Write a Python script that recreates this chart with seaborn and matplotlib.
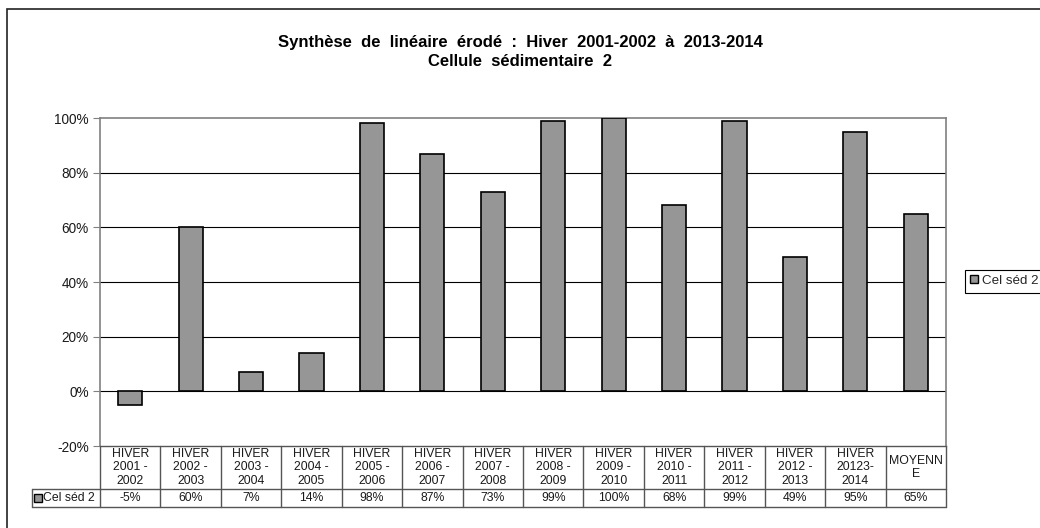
import matplotlib
matplotlib.use("Agg")
import matplotlib.pyplot as plt
import matplotlib.transforms as mtransforms
from matplotlib.lines import Line2D
from matplotlib.patches import Rectangle
from matplotlib.ticker import FuncFormatter, MultipleLocator
import pandas as pd
import seaborn as sns

# Winter periods and share of eroded shoreline (%)
categories = [
    "HIVER\n2001 -\n2002", "HIVER\n2002 -\n2003", "HIVER\n2003 -\n2004",
    "HIVER\n2004 -\n2005", "HIVER\n2005 -\n2006", "HIVER\n2006 -\n2007",
    "HIVER\n2007 -\n2008", "HIVER\n2008 -\n2009", "HIVER\n2009 -\n2010",
    "HIVER\n2010 -\n2011", "HIVER\n2011 -\n2012", "HIVER\n2012 -\n2013",
    "HIVER\n20123-\n2014", "MOYENN\nE",
]
values = [-5, 60, 7, 14, 98, 87, 73, 99, 100, 68, 99, 49, 95, 65]
series_name = "Cel séd 2"
title_lines = ["Synthèse  de  linéaire  érodé  :  Hiver  2001-2002  à  2013-2014",
               "Cellule  sédimentaire  2"]

sns.set_theme(style="white")
plt.rcParams["font.family"] = ["Liberation Sans", "DejaVu Sans"]

W, H = 1040, 528
fig = plt.figure(figsize=(W / 100, H / 100), dpi=100)
fig.patch.set_facecolor("white")

# plot area in pixel terms
L, R, T, B = 100, 946, 118, 446
ax = fig.add_axes([L / W, 1 - B / H, (R - L) / W, (B - T) / H])

df = pd.DataFrame({"periode": categories, "pct": values})
BAR = "#969696"
sns.barplot(data=df, x="periode", y="pct", color=BAR, saturation=1,
            edgecolor="black", linewidth=1.2, width=0.4, ax=ax, zorder=3)

ax.set_ylim(-20, 100)
ax.set_xlim(-0.5, len(categories) - 0.5)
ax.yaxis.set_major_locator(MultipleLocator(20))
ax.yaxis.set_major_formatter(FuncFormatter(lambda v, p: f"{v:.0f}%"))
ax.set_xlabel("")
ax.set_ylabel("")
ax.set_xticks([])
ax.tick_params(axis="y", which="major", direction="out", length=5, width=0.8,
               color="#808080", labelsize=9.8, pad=3, left=True)
for lab in ax.get_yticklabels():
    lab.set_color("#1a1a1a")
for g in [0, 20, 40, 60, 80]:
    ax.axhline(g, color="black", lw=0.8, zorder=1)
for side in ["top", "right", "left"]:
    ax.spines[side].set_color("#808080")
    ax.spines[side].set_linewidth(1.2)
ax.spines["bottom"].set_color("#555555")
ax.spines["bottom"].set_linewidth(1.0)

# data table beneath the plot area
tr = mtransforms.blended_transform_factory(ax.transData, ax.transAxes)
hpx = B - T
colw = (R - L) / len(categories)
y_cat = -(489 - B) / hpx
y_val = -(507 - B) / hpx
x_lab = -0.5 - (L - 32) / colw
lc = "#555555"
for i in range(len(categories) + 1):
    ax.add_line(Line2D([i - 0.5, i - 0.5], [0, y_val], transform=tr,
                       color=lc, lw=1.0, clip_on=False))
ax.add_line(Line2D([x_lab, len(categories) - 0.5], [y_cat, y_cat], transform=tr,
                   color=lc, lw=1.0, clip_on=False))
ax.add_line(Line2D([x_lab, len(categories) - 0.5], [y_val, y_val], transform=tr,
                   color=lc, lw=1.0, clip_on=False))
ax.add_line(Line2D([x_lab, x_lab], [y_cat, y_val], transform=tr,
                   color=lc, lw=1.0, clip_on=False))
for i, (c, v) in enumerate(zip(categories, values)):
    ax.text(i, y_cat / 2, c, transform=tr, ha="center", va="center",
            fontsize=8.8, linespacing=1.12, color="#1a1a1a")
    ax.text(i, (y_cat + y_val) / 2, f"{v}%", transform=tr, ha="center",
            va="center", fontsize=8.8, color="#1a1a1a")
ax.add_line(Line2D([x_lab + 0.1], [(y_cat + y_val) / 2], transform=tr,
                   marker="s", markersize=5.5, markerfacecolor=BAR,
                   markeredgecolor="black", markeredgewidth=1.0, clip_on=False))
ax.text(x_lab + 0.19, (y_cat + y_val) / 2, series_name, transform=tr,
        ha="left", va="center", fontsize=8.8, color="#1a1a1a")

# legend
handle = Line2D([], [], linestyle="none", marker="s", markersize=5.5,
                markerfacecolor=BAR, markeredgecolor="black", markeredgewidth=1.0)
leg = fig.legend([handle], [series_name], loc="center left",
                 bbox_to_anchor=(965 / W, 1 - 281 / H), bbox_transform=fig.transFigure,
                 frameon=True, fancybox=False, framealpha=1, fontsize=9.6,
                 handlelength=0.6, handletextpad=0.3, borderpad=0.4,
                 borderaxespad=0)
leg.get_frame().set_edgecolor("black")
leg.get_frame().set_linewidth(0.8)

# title
fig.text(0.5, 1 - 43 / H, title_lines[0], ha="center", va="center",
         fontsize=12, fontweight="bold", color="black")
fig.text(0.5, 1 - 62 / H, title_lines[1], ha="center", va="center",
         fontsize=12, fontweight="bold", color="black")

# chart frame
fig.add_artist(Rectangle((7 / W, -0.1), 1.2, 1 - 9 / H + 0.1,
                         transform=fig.transFigure, fill=False,
                         edgecolor="#222222", lw=1.2))

fig.savefig("out.png", dpi=100, facecolor="white")
